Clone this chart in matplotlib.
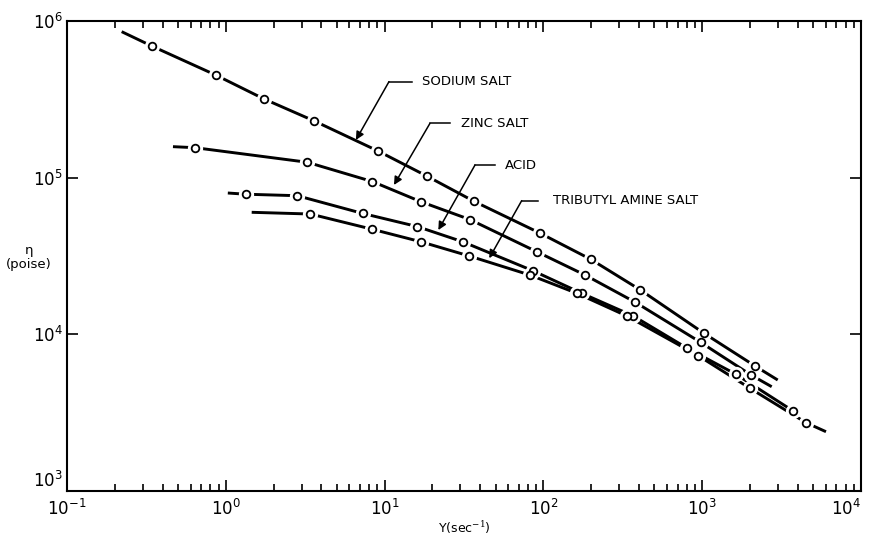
import matplotlib
matplotlib.use('Agg')
import matplotlib.pyplot as plt
from matplotlib.ticker import LogLocator, LogFormatterMathtext, NullFormatter

plt.rcParams['mathtext.fontset'] = 'dejavuserif'

# shear rate (sec^-1) and viscosity (poise)
sodium_x = [0.221, 0.342, 0.864, 1.74, 3.61, 9.09, 18.4, 36.7, 95.9, 199, 408, 1026, 2150, 2990]
sodium_y = [8.55e5, 6.92e5, 4.52e5, 3.18e5, 2.30e5, 1.48e5, 1.025e5, 7.05e4, 4.41e4, 3.01e4, 1.92e4, 1.016e4, 6280, 5110]
sodium_pts = [1, 2, 3, 4, 5, 6, 7, 8, 9, 10, 11, 12]

zinc_x = [0.465, 0.642, 3.26, 8.39, 17.0, 34.5, 90.7, 183, 380, 976, 2030, 2740]
zinc_y = [1.577e5, 1.553e5, 1.254e5, 9.44e4, 7.01e4, 5.40e4, 3.37e4, 2.39e4, 1.60e4, 8900, 5500, 4630]
zinc_pts = [1, 2, 3, 4, 5, 6, 7, 8, 9, 10]

acid_x = [1.03, 1.335, 2.82, 7.28, 16.1, 31.0, 86.4, 174, 368, 806, 1632, 3715]
acid_y = [7.98e4, 7.84e4, 7.67e4, 5.91e4, 4.87e4, 3.90e4, 2.54e4, 1.83e4, 1.31e4, 8146, 5558, 3255]
acid_pts = [1, 2, 3, 4, 5, 6, 7, 8, 9, 10, 11]

tba_x = [1.456, 3.41, 8.39, 16.9, 34.2, 82.3, 162, 335, 945, 2000, 4505, 6020]
tba_y = [6.01e4, 5.86e4, 4.68e4, 3.90e4, 3.16e4, 2.39e4, 1.83e4, 1.31e4, 7305, 4525, 2729, 2390]
tba_pts = [1, 2, 3, 4, 5, 6, 7, 8, 9, 10]

series = [
    (sodium_x, sodium_y, sodium_pts),
    (zinc_x, zinc_y, zinc_pts),
    (acid_x, acid_y, acid_pts),
    (tba_x, tba_y, tba_pts),
]

# label text, arrow tip, leader elbow start/end, text x
labels = [
    ('SODIUM SALT', (6.6, 1.74e5), 10.66, 14.8, 4.10e5, 17.1),
    ('ZINC SALT', (11.46, 8.98e4), 19.3, 25.8, 2.22e5, 30.3),
    ('ACID', (21.8, 4.63e4), 37.1, 49.6, 1.204e5, 57.3),
    ('TRIBUTYL AMINE SALT', (45.6, 3.06e4), 73.0, 92.9, 7.13e4, 115.5),
]

fig = plt.figure(figsize=(8.71, 5.37), dpi=100)
ax = fig.add_axes([0.0769, 0.0857, 0.9116, 0.8752])

for xs, ys, pts in series:
    ax.plot(xs, ys, color='black', lw=2.1, solid_capstyle='butt', zorder=2)
    px = [xs[i] for i in pts]
    py = [ys[i] for i in pts]
    # white halo gives the broken line look around each circle
    ax.plot(px, py, 'o', ms=11, mfc='white', mec='none', zorder=3)
    ax.plot(px, py, 'o', ms=5.5, mfc='white', mec='black', mew=1.3, zorder=4)

for text, tip, h0, h1, hy, tx in labels:
    ax.plot([h0, h1], [hy, hy], color='black', lw=1.1, zorder=5)
    ax.annotate('', xy=tip, xytext=(h0, hy),
                arrowprops=dict(arrowstyle='-|>', color='black', lw=1.1,
                                mutation_scale=12, shrinkA=0, shrinkB=0),
                zorder=5)
    ax.text(tx, hy, text, fontsize=9.5, va='center', ha='left', family='DejaVu Sans')

ax.set_xscale('log')
ax.set_yscale('log')
ax.set_xlim(0.1, 1e4)
ax.set_ylim(1e3, 1e6)

ax.xaxis.set_major_locator(LogLocator(base=10, numticks=10))
ax.xaxis.set_minor_locator(LogLocator(base=10, subs=range(2, 10), numticks=20))
ax.xaxis.set_minor_formatter(NullFormatter())
ax.yaxis.set_major_locator(LogLocator(base=10, numticks=10))
ax.yaxis.set_minor_locator(LogLocator(base=10, subs=[], numticks=10))
ax.yaxis.set_minor_formatter(NullFormatter())
ax.xaxis.set_major_formatter(LogFormatterMathtext())
ax.yaxis.set_major_formatter(LogFormatterMathtext())

ax.tick_params(which='both', direction='in', top=True, right=True, width=1.2)
ax.tick_params(which='major', length=8, labelsize=12)
ax.tick_params(axis='x', which='major', pad=6)
ax.tick_params(axis='y', which='major', pad=3)
ax.tick_params(which='minor', length=5)
for s in ax.spines.values():
    s.set_linewidth(1.5)

ax.set_xlabel('Y(sec$^{-1}$)', fontsize=9, labelpad=0)
fig.text(0.033, 0.52, '\u03b7\n(poise)', fontsize=9.5, ha='center', va='center',
         linespacing=1.1)

fig.canvas.draw()
for t in ax.yaxis.get_major_ticks():
    if abs(t.get_loc() - 1e3) < 1:
        t.label1.set_verticalalignment('bottom')
    else:
        t.label1.set_verticalalignment('center_baseline')
for t in ax.xaxis.get_major_ticks():
    if abs(t.get_loc() - 1e4) < 1:
        t.label1.set_horizontalalignment('right')

fig.savefig('out.png', dpi=100)
